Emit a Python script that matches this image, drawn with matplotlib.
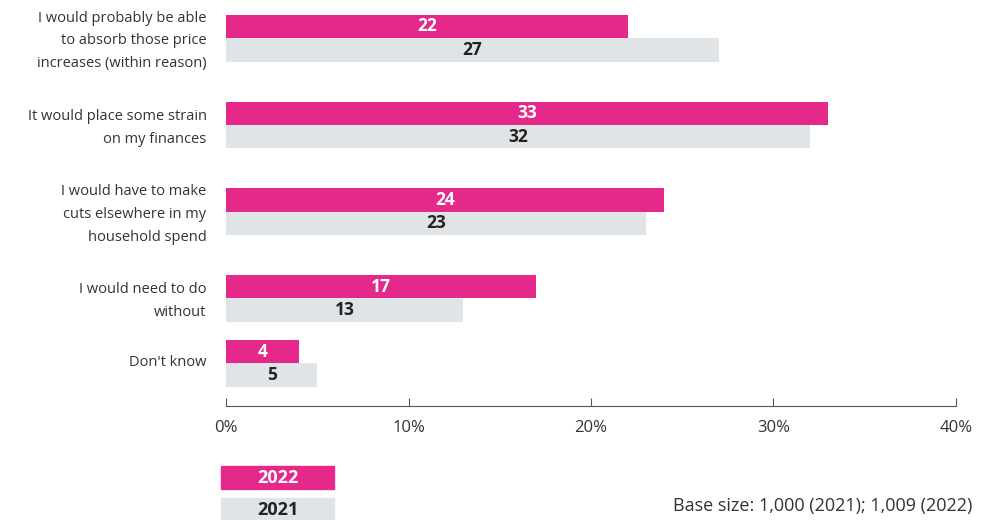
import matplotlib.pyplot as plt
from matplotlib.patches import Rectangle

# data
categories = [
    "I would probably be able\nto absorb those price\nincreases (within reason)",
    "It would place some strain\non my finances",
    "I would have to make\ncuts elsewhere in my\nhousehold spend",
    "I would need to do\nwithout",
    "Don't know",
]
vals_2022 = [22, 33, 24, 17, 4]
vals_2021 = [27, 32, 23, 13, 5]
ticks = [0, 10, 20, 30, 40]
tick_labels = ["0%", "10%", "20%", "30%", "40%"]

PINK = "#E5298A"
GREY = "#E1E4E7"
DARK = "#222222"
plt.rcParams['font.family'] = ['Open Sans', 'DejaVu Sans']

fig = plt.figure(figsize=(9.84, 5.2), dpi=100)
ax = fig.add_axes([226 / 984, 1 - 406 / 520, 730 / 984, 406 / 520])

ypos = [0, 1, 2, 3, 3.75]
h = 0.27
for y, v22, v21 in zip(ypos, vals_2022, vals_2021):
    ax.barh(y - h / 2, v22, height=h, color=PINK)
    ax.barh(y + h / 2, v21, height=h, color=GREY)
    ax.text(v22 / 2, y - h / 2, str(v22), ha="center", va="center",
            color="white", fontsize=12.5, fontweight="bold")
    ax.text(v21 / 2, y + h / 2, str(v21), ha="center", va="center",
            color=DARK, fontsize=12.5, fontweight="bold")

ax.set_xlim(0, 40)
ax.set_ylim(4.24, -0.44)
ax.set_xticks(ticks)
ax.set_xticklabels(tick_labels, fontsize=12, color="#333333")
ax.tick_params(axis="x", direction="in", length=6, color="#555555", pad=10)
ax.set_yticks([y - 0.035 for y in ypos])
ax.set_yticklabels(categories, fontsize=10.5, color="#333333", linespacing=1.7)
ax.tick_params(axis="y", length=0, pad=14)
for s in ["top", "right", "left"]:
    ax.spines[s].set_visible(False)
ax.spines["bottom"].set_color("#555555")

# legend boxes
for (y0, col, lab, tc) in [(466, PINK, "2022", "white"), (498, GREY, "2021", DARK)]:
    fig.patches.append(Rectangle((221 / 984, 1 - (y0 + 23) / 520), 113 / 984, 23 / 520,
                                 transform=fig.transFigure, color=col))
    fig.text(277.5 / 984, 1 - (y0 + 12) / 520, lab, ha="center", va="center",
             color=tc, fontsize=13, fontweight="bold")

fig.text(972 / 984, 1 - 506 / 520, "Base size: 1,000 (2021); 1,009 (2022)",
         ha="right", va="center", fontsize=13, color="#333333")

fig.savefig("out.png", dpi=100)
